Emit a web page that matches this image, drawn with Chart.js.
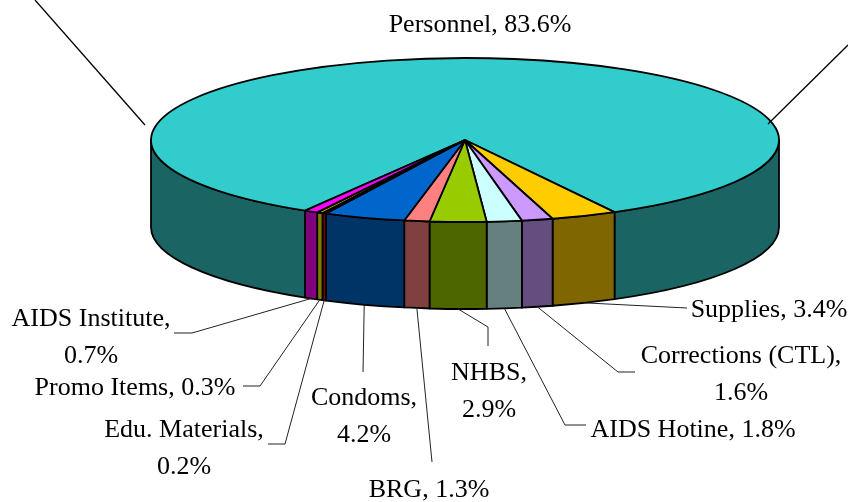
<!DOCTYPE html>
<html>
<head>
<meta charset="utf-8">
<script src="https://cdn.jsdelivr.net/npm/chart.js@4.4.0/dist/chart.umd.min.js"></script>
<style>
  body { margin: 0; background: #fff; font-family: "Liberation Serif", serif; }
  #wrap { width: 848px; height: 502px; }
  #probe { position: absolute; left: -9999px; font: 26px "Liberation Serif"; }
</style>
</head>
<body>
<span id="probe">Personnel</span>
<div id="wrap"><canvas id="budget" width="848" height="502"></canvas></div>
<script>
// slice data, clockwise from the back
const categories = ["Personnel", "Supplies", "Corrections (CTL)", "AIDS Hotine", "NHBS",
                    "BRG", "Condoms", "Edu. Materials", "Promo Items", "AIDS Institute"];
const shares = [83.6, 3.4, 1.6, 1.8, 2.9, 1.3, 4.2, 0.2, 0.3, 0.7];
const topColors = ["#33CCCC", "#FFCC00", "#CC99FF", "#CCFFFF", "#99CC00",
                   "#FF8080", "#0066CC", "#A00000", "#C0C000", "#FF00FF"];
const sideColors = ["#1A6464", "#806600", "#664D80", "#668080", "#4D6600",
                    "#804040", "#003366", "#800000", "#808000", "#800080"];

// layout of the tilted pie and of the labels
const pie3d = { cx: 465, cy: 140, rx: 314, ry: 82, depth: 87 };
const fontCss = '26px "Liberation Serif", serif';
const lineGap = 37;
// x center, first baseline, split into two lines?, leader bend points
const labelPos = [
    { x: 480, y: 32, split: false, bend: null },
    { x: 769, y: 317, split: false, bend: [[687, 308]] },
    { x: 741, y: 363, split: true, bend: [[618, 372], [635, 372]] },
    { x: 693, y: 437, split: false, bend: [[565, 425], [586, 425]] },
    { x: 489, y: 380, split: true, bend: [[488, 327], [488, 346]] },
    { x: 429, y: 497, split: false, bend: [[432, 462]] },
    { x: 364, y: 405, split: true, bend: [[363, 372]] },
    { x: 184, y: 437, split: true, bend: [[285, 444], [268, 444]] },
    { x: 135, y: 395, split: false, bend: [[260, 386], [243, 386]] },
    { x: 91, y: 326, split: true, bend: [[192, 333], [174, 333]] }
];
const cornerLines = [[[35, 0], [145, 125]], [[848, 45], [768, 124]]];

function sidePath(ctx, a, b) {
    const p = pie3d;
    ctx.beginPath();
    ctx.moveTo(p.cx + p.rx * Math.cos(a), p.cy + p.ry * Math.sin(a));
    ctx.ellipse(p.cx, p.cy, p.rx, p.ry, 0, a, b, false);
    ctx.lineTo(p.cx + p.rx * Math.cos(b), p.cy + p.depth + p.ry * Math.sin(b));
    ctx.ellipse(p.cx, p.cy + p.depth, p.rx, p.ry, 0, b, a, true);
    ctx.closePath();
}

const pie3dPlugin = {
    id: 'pie3d',
    beforeDatasetsDraw() {
        return false; // the plugin paints the arcs itself
    },
    afterDraw(chart) {
        const ctx = chart.ctx;
        const p = pie3d;
        const arcs = chart.getDatasetMeta(0).data;
        const TWO_PI = Math.PI * 2;
        ctx.save();
        ctx.lineJoin = 'round';
        ctx.strokeStyle = '#000';
        ctx.lineWidth = 1.8;

        // walls of the front half
        arcs.forEach((arc, i) => {
            let s = arc.startAngle % TWO_PI;
            if (s < 0) s += TWO_PI;
            const e = s + (arc.endAngle - arc.startAngle);
            [[0, Math.PI], [TWO_PI, TWO_PI + Math.PI]].forEach(([lo, hi]) => {
                const a = Math.max(s, lo), b = Math.min(e, hi);
                if (b - a > 1e-4) {
                    sidePath(ctx, a, b);
                    ctx.fillStyle = sideColors[i];
                    ctx.fill();
                    ctx.stroke();
                }
            });
        });

        // top face
        arcs.forEach((arc, i) => {
            ctx.beginPath();
            ctx.moveTo(p.cx, p.cy);
            ctx.ellipse(p.cx, p.cy, p.rx, p.ry, 0, arc.startAngle, arc.endAngle, false);
            ctx.closePath();
            ctx.fillStyle = topColors[i];
            ctx.fill();
            ctx.stroke();
        });

        // leader lines
        ctx.lineWidth = 1;
        ctx.strokeStyle = '#222';
        arcs.forEach((arc, i) => {
            const lp = labelPos[i];
            if (!lp.bend) return;
            const mid = (arc.startAngle + arc.endAngle) / 2;
            ctx.beginPath();
            ctx.moveTo(p.cx + p.rx * Math.cos(mid), p.cy + p.depth + p.ry * Math.sin(mid));
            lp.bend.forEach(pt => ctx.lineTo(pt[0], pt[1]));
            ctx.stroke();
        });
        ctx.strokeStyle = '#000';
        ctx.lineWidth = 1.3;
        cornerLines.forEach(ln => {
            ctx.beginPath();
            ctx.moveTo(ln[0][0], ln[0][1]);
            ctx.lineTo(ln[1][0], ln[1][1]);
            ctx.stroke();
        });

        // labels
        ctx.fillStyle = '#000';
        ctx.font = fontCss;
        ctx.textAlign = 'center';
        ctx.textBaseline = 'alphabetic';
        chart.data.labels.forEach((name, i) => {
            const lp = labelPos[i];
            const val = chart.data.datasets[0].data[i].toFixed(1) + '%';
            if (lp.split) {
                ctx.fillText(name + ',', lp.x, lp.y);
                ctx.fillText(val, lp.x, lp.y + lineGap);
            } else {
                ctx.fillText(name + ', ' + val, lp.x, lp.y);
            }
        });
        ctx.restore();
    }
};

function drawChart() {
    new Chart(document.getElementById('budget'), {
        type: 'pie',
        data: {
            labels: categories,
            datasets: [{
                data: shares,
                backgroundColor: topColors,
                borderColor: '#000',
                borderWidth: 1
            }]
        },
        options: {
            responsive: false,
            animation: false,
            rotation: 210.6,
            plugins: {
                legend: { display: false },
                tooltip: { enabled: false }
            }
        },
        plugins: [pie3dPlugin]
    });
}

document.fonts.load(fontCss).then(drawChart, drawChart);
</script>
</body>
</html>
